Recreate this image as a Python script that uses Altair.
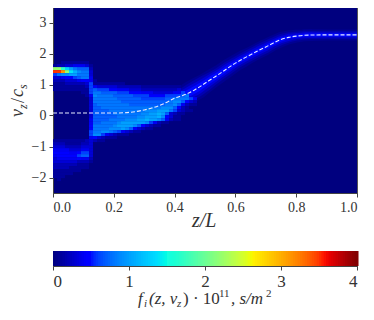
import altair as alt
import numpy as np
import pandas as pd

SERIF = "Liberation Serif"
AXF = "Liberation Serif"
TXT = "#333333"

# density table: one string per velocity row (top to bottom), one character per z column,
# base-36 digit = f * 10
Z26 = "0" * 26
HEAT_ROWS = [
    "0" * 36,
    "0" * 36,
    "0011111110" + Z26,
    "1223344431" + Z26,
    "mmhda87772" + Z26,
    "zzvmeb9883" + Z26,
    "6899aa8883" + Z26,
    "3345567884" + Z26,
    "2223334554" + "10000000000000000000000000",
    "1112222236" + "11111111000000000000000000",
    "1111111126" + "43333322222211111111110000",
    "1111111116" + "76665544433322222222230000",
    "0000000116" + "88777766655544433333446000",
    "0000000014" + "98888777776666555566667800",
    "0000000003" + "88888877777766666677888864",
    "0000000003" + "88888887777777777778997532",
    "0000000003" + "78888888877777777788974211",
    "0000000003" + "77888888888888888999752100",
    "0000000003" + "7777888888888999aaa8632110",
    "0000000003" + "77777888888899aaba73211000",
    "0000000003" + "7777778888899aaab953110000",
    "0000000004" + "77778888999aabaa9742110000",
    "0000000004" + "7788889aaaaaa9642110000000",
    "0000000005" + "888889aaaa9753211000000000",
    "0000000005" + "8888999a975321100000000000",
    "0000000006" + "88998764321100000000000000",
    "0000000006" + "99643211100000000000000000",
    "0000000004" + "53211100000000000000000000",
    "1111111123" + "21100000000000000000000000",
    "2221111223" + Z26,
    "3332222333" + Z26,
    "4444333443" + Z26,
    "5555445663" + Z26,
    "4555556773" + Z26,
    "3444445442" + Z26,
    "3333332221" + Z26,
    "2222221110" + Z26,
    "2222111110" + Z26,
    "1111111000" + Z26,
    "1111100000" + Z26,
    "1110000000" + Z26,
    "0100000000" + Z26,
    "0" * 36,
]
CELL_Z = 4 / 304
CELL_V = 3 / 31
TOP_V = 1.9 + CELL_V / 2

# ridge of the distribution on the right-hand side
RIDGE_Z = [.35, .375, .40, .425, .45, .475, .5, .525, .55, .575, .6, .625, .65, .675, .7, .725, .75, .775, .8, .825, .85, .9, .95, 1.0]
RIDGE_V = [.32, .43, .56, .64, .74, .88, 1.04, 1.2, 1.36, 1.53, 1.69, 1.83, 1.96, 2.09, 2.21, 2.34, 2.45, 2.52, 2.56, 2.585, 2.595, 2.6, 2.6, 2.6]
GLOW_WIDE = [2, 6, 12, 18, 22, 22, 20, 19, 18, 18, 17, 17, 16, 16, 16, 15, 15, 14, 13, 12, 12, 11, 11, 11]
GLOW_OUTER = [1, 4, 9, 14, 17, 17, 16, 14, 13, 13, 12, 12, 12, 12, 12, 11, 11, 10, 9, 9, 8, 8, 8, 8]
GLOW_MID = [1, 3, 7, 10, 12, 12, 11, 10, 9, 9, 8, 8, 8, 8, 8, 7, 7, 7, 6, 6, 6, 5, 5, 5]
GLOW_CORE = [1, 2, 4, 6, 7, 7, 6, 6, 5, 5, 4, 4, 4, 4, 4, 4, 4, 3, 3, 3, 3, 3, 3, 3]

# dashed mean-velocity curve
LINE_Z = [0, .1, .2, .25, .275, .3, .325] + RIDGE_Z
LINE_V = [.08, .08, .08, .1, .13, .18, .24] + RIDGE_V

# jet colormap stops
JET_POS = [0, .11, .125, .34, .35, .375, .64, .65, .66, .89, .91, 1]
JET_HEX = ["#00007f", "#0000ff", "#0000ff", "#00dcff", "#00e5f7", "#16ffe1", "#e1ff16", "#f1fc06", "#fff000", "#ff1300", "#e80000", "#7f0000"]
CBAR_STEPS = 128

cells = []
for r, row in enumerate(HEAT_ROWS):
    for c, ch in enumerate(row[:36]):
        lvl = int(ch, 36)
        if lvl:
            cells.append(dict(z0=c * CELL_Z, z1=(c + 1) * CELL_Z,
                              v1=TOP_V - r * CELL_V, v0=TOP_V - (r + 1) * CELL_V, f=lvl / 10))
cells = pd.DataFrame(cells)
ridge = pd.DataFrame(dict(z=RIDGE_Z, v=RIDGE_V, w=GLOW_WIDE, a=GLOW_OUTER, b=GLOW_MID, c=GLOW_CORE))
line = pd.DataFrame(dict(z=LINE_Z, v=LINE_V))

color = alt.Scale(domain=[p * 4 for p in JET_POS], range=JET_HEX)
xs = alt.Scale(domain=[0, 1], nice=False, zero=False)
ys = alt.Scale(domain=[-2.5, 3.5], nice=False, zero=False)
XAX = alt.Axis(values=[0, .2, .4, .6, .8, 1], format=".1f", title=None, labelFont=AXF, labelFontSize=14,
               labelColor=TXT, labelPadding=3, tickSize=4, grid=False)
YAX = alt.Axis(values=[-2, -1, 0, 1, 2, 3], format="d", title=None, labelFont=AXF, labelFontSize=14,
               labelColor=TXT, labelPadding=3, tickSize=4, grid=False)
xq = alt.X("z:Q", scale=xs, axis=XAX)
yq = alt.Y("v:Q", scale=ys, axis=YAX)


def txt(s, x, y, size, italic=True, angle=0):
    kw = dict(fontStyle="italic") if italic else {}
    return alt.Chart(pd.DataFrame({"t": [s]})).mark_text(
        text=s, font=SERIF, fontSize=size, color=TXT, align="left", baseline="alphabetic", angle=angle, **kw
    ).encode(x=alt.value(x), y=alt.value(y))


base = alt.Chart(cells).mark_rect(stroke=None).encode(
    x=alt.X("z0:Q", scale=xs, axis=XAX),
    x2="z1:Q",
    y=alt.Y("v0:Q", scale=ys, axis=YAX),
    y2="v1:Q",
    color=alt.Color("f:Q", scale=color, legend=None),
)


def glow(col, colr):
    return alt.Chart(ridge).mark_trail(color=colr, clip=True).encode(
        x=xq, y=yq, size=alt.Size(f"{col}:Q", scale=None, legend=None), order="z:Q")


top = alt.layer(
    glow("w", "#000092"),
    glow("a", "#0000b0"),
    glow("b", "#0000d8"),
    glow("c", "#0008ff"),
    base,
    alt.Chart(line).mark_line(color="#e8ecff", strokeWidth=1.1, strokeDash=[4, 2], interpolate="monotone").encode(x=xq, y=yq),
    txt("z/L", 139, 220, 20),
    txt("v", -30, 110, 18, angle=270),
    txt("z", -26, 102, 12, angle=270),
    txt("/", -29, 96, 18, False, angle=270),
    txt("c", -30, 90, 18, angle=270),
    txt("s", -26, 82, 12, angle=270),
).properties(width=304, height=186)

bar = pd.DataFrame(dict(s0=[i * 4 / CBAR_STEPS for i in range(CBAR_STEPS)]))
bar["s1"] = bar.s0 + 4 / CBAR_STEPS + .02
bar["m"] = bar.s0 + 2 / CBAR_STEPS

cbar = alt.layer(
    alt.Chart(bar).mark_rect().encode(
        x=alt.X("s0:Q", scale=alt.Scale(domain=[0, 4], nice=False, zero=False),
                axis=alt.Axis(values=[0, 1, 2, 3, 4], format="d", title=None, labelFontSize=17, labelFont=AXF,
                              labelColor=TXT, labelPadding=3, tickSize=4, grid=False)),
        x2="s1:Q",
        color=alt.Color("m:Q", scale=color, legend=None),
    ),
    txt("f", 85, 53, 17),
    txt("i", 91, 56, 11),
    txt("(z, v", 96, 53, 17),
    txt("z", 124, 56, 11),
    txt(") · 10", 130, 53, 17, False),
    txt("11", 166, 46, 11, False),
    txt(", s/m", 178, 53, 17),
    txt("2", 213, 46, 11, False),
).properties(width=304, height=15)

chart = alt.vconcat(top, cbar, spacing=18).properties(
    padding=dict(left=0, top=-2, right=0, bottom=0)
).configure(font=SERIF).configure_view(fill="#00007f", stroke="#555555", strokeWidth=1).configure_axis(
    domainColor="#444444", tickColor="#444444",
).configure_concat(spacing=18)

chart.save("out.html", embed_options={"renderer": "svg", "actions": False})
